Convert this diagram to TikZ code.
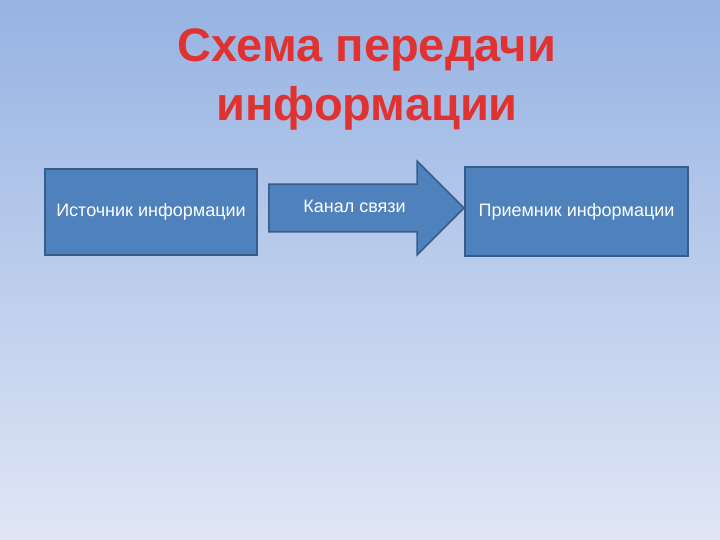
\documentclass[tikz,border=0pt]{standalone}
\usepackage{fontspec}
\setmainfont{Liberation Sans}
\usepackage{tikz}
\usetikzlibrary{shapes.arrows}

\definecolor{boxfill}{RGB}{79,129,189}
\definecolor{boxline}{RGB}{56,93,138}
\definecolor{titlered}{RGB}{224,50,48}
\definecolor{skytop}{RGB}{150,179,227}
\definecolor{skybottom}{RGB}{224,230,245}

\begin{document}
\begin{tikzpicture}[x=1pt, y=-1pt,
  block/.style={rectangle, draw=boxline, line width=1.5pt, fill=boxfill,
    text=white, font=\fontsize{18}{22}\selectfont, inner sep=0pt},
  %
  channel/.style={single arrow, draw=boxline, line width=1.5pt, fill=boxfill,
    text=white, font=\fontsize{18}{22}\selectfont, text height=12pt,
    text depth=4pt, inner ysep=15pt, inner xsep=8pt,
    single arrow head extend=23pt, minimum height=195pt},
  %
  heading/.style={text=titlered, font=\fontsize{47}{59}\selectfont\bfseries,
    align=center}
  ]

  % slide background
  \shade [top color=skytop, bottom color=skybottom] (0,0) rectangle (720,540);
  \useasboundingbox (0,0) rectangle (720,540);

  \node [heading, anchor=base] (title) at (367,121)
    {Схема передачи\\информации};

  \node [block, minimum width=212pt, minimum height=86pt] (source) at (151,212)
    {Источник информации};
  \node [block, minimum width=223pt, minimum height=89pt] (receiver) at (576.5,211.5)
    {Приемник информации};

  \node [channel, anchor=tip] (link) at (465,208) {Канал связи};

\end{tikzpicture}
\end{document}
